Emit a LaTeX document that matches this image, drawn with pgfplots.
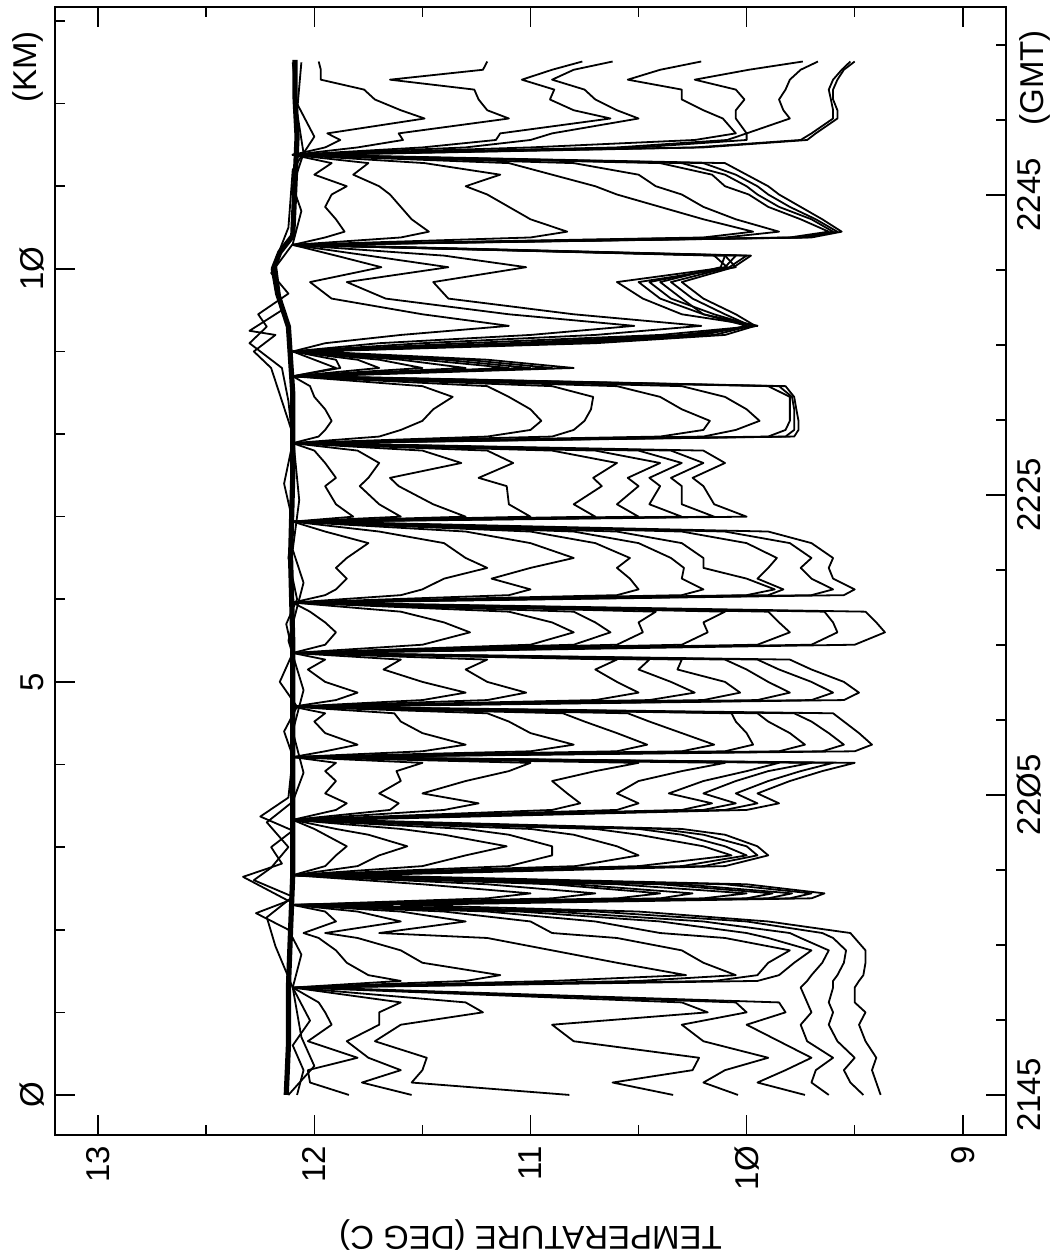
\documentclass[border=0pt]{standalone}
\usepackage{fontspec}
\setmainfont{Liberation Sans}
\usepackage{pgfplots}
\usepackage{pgfplotstable}
\pgfplotsset{compat=1.18}

\pgfplotstableread{
km D1 D2 D3 D4 D5 D6 D7 D8 D9
0.00 11.84 11.55 10.82 10.34 10.04 9.73 9.62 9.46 9.38
0.15 12.02 11.78 11.55 10.62 10.20 9.95 9.70 9.52 9.40
0.30 12.03 11.60 11.50 10.25 10.10 9.82 9.68 9.55 9.42
0.45 11.80 11.75 11.48 10.22 9.90 9.70 9.60 9.50 9.40
0.65 12.03 11.85 11.72 10.80 10.20 9.85 9.72 9.58 9.45
0.85 11.92 11.70 11.60 10.90 10.30 10.00 9.75 9.62 9.48
1.00 11.95 11.70 11.22 10.18 10.00 9.82 9.70 9.60 9.45
1.12 11.98 11.60 11.30 10.30 10.05 9.85 9.72 9.62 9.50
1.30 12.10 12.10 12.10 12.08 12.05 12.00 9.75 9.60 9.50
1.38 11.60 11.30 10.90 10.50 10.15 9.95 9.72 9.60 9.48
1.45 11.75 11.14 10.28 10.05 9.95 9.85 9.70 9.58 9.46
1.60 11.85 11.50 10.60 10.20 9.90 9.78 9.65 9.55 9.45
1.75 11.90 11.60 10.90 10.30 9.80 9.70 9.62 9.54 9.45
1.90 11.98 11.80 11.20 10.60 10.10 9.90 9.75 9.60 9.50
1.96 12.05 11.95 11.70 10.90 10.40 10.00 9.80 9.65 9.52
2.10 11.90 11.60 11.30 11.00 10.70 10.40 10.20 10.00 9.90
2.22 11.95 11.80 11.60 11.40 11.20 11.05 10.90 10.70 10.50
2.30 12.10 12.10 12.10 12.10 12.08 12.05 12.00 11.90 11.60
2.38 11.20 10.90 10.60 10.40 10.20 10.00 9.90 9.80 9.70
2.44 11.00 10.70 10.40 10.25 10.00 9.88 9.79 9.70 9.64
2.55 11.50 11.20 10.90 10.80 10.60 10.40 10.30 10.10 10.00
2.66 12.10 12.10 12.10 12.10 12.10 12.10 12.10 11.95 11.80
2.77 11.95 11.80 11.50 11.10 10.79 10.50 10.30 10.20 10.10
2.90 11.90 11.70 11.30 10.90 10.50 10.07 10.00 9.95 9.90
3.01 11.85 11.57 11.11 10.90 10.60 10.20 10.10 10.00 9.95
3.15 11.95 11.75 11.40 11.10 10.80 10.50 10.30 10.20 10.10
3.22 12.00 11.90 11.60 11.30 11.00 10.70 10.50 10.40 10.30
3.33 12.10 12.10 12.10 12.10 12.10 12.10 12.05 12.00 11.90
3.45 11.90 11.65 11.40 10.90 10.60 10.30 10.20 10.10 10.00
3.53 11.85 11.61 11.24 10.77 10.50 10.16 10.05 9.95 9.85
3.65 11.95 11.70 11.50 10.83 10.60 10.36 10.20 10.05 9.95
3.80 11.90 11.60 11.30 10.90 10.50 10.20 10.05 9.90 9.80
3.92 11.95 11.62 11.10 10.70 10.30 10.00 9.90 9.75 9.65
4.02 11.90 11.50 11.00 10.50 10.10 9.85 9.70 9.60 9.50
4.09 12.10 12.10 12.10 12.10 12.10 12.10 12.05 12.00 11.95
4.16 11.95 11.50 11.00 10.60 10.30 10.10 9.85 9.65 9.50
4.24 11.80 11.30 10.80 10.46 10.15 9.97 9.73 9.55 9.42
4.38 11.95 11.50 11.00 10.60 10.30 10.00 9.80 9.62 9.48
4.52 12.00 11.60 11.10 10.75 10.45 10.05 9.90 9.70 9.55
4.62 11.95 11.63 11.20 10.85 10.55 10.07 9.95 9.78 9.60
4.70 12.10 12.10 12.10 12.10 12.10 12.10 12.10 12.05 12.00
4.78 11.90 11.50 11.20 10.70 10.45 10.20 9.95 9.70 9.55
4.87 11.80 11.30 11.02 10.50 10.24 10.03 9.80 9.60 9.48
5.00 11.95 11.50 11.20 10.60 10.35 10.10 9.90 9.70 9.55
5.15 12.03 11.68 11.30 10.70 10.50 10.32 10.00 9.85 9.70
5.27 11.95 11.60 11.20 10.60 10.45 10.30 10.10 9.95 9.80
5.35 12.10 12.10 12.10 12.10 12.10 12.10 12.10 12.05 12.00
5.45 11.95 11.50 11.00 10.80 10.60 10.30 9.95 9.70 9.50
5.60 11.90 11.28 10.80 10.63 10.48 10.18 9.80 9.58 9.36
5.72 11.95 11.40 10.90 10.70 10.50 10.20 9.85 9.60 9.40
5.85 12.02 11.60 11.10 10.80 10.42 10.10 9.90 9.64 9.45
5.96 12.10 12.10 12.10 12.10 12.10 12.10 12.10 12.05 12.00
6.05 11.95 11.60 11.10 10.60 10.30 10.00 9.90 9.70 9.55
6.12 11.90 11.50 11.00 10.50 10.20 9.87 9.83 9.60 9.50
6.25 11.85 11.40 11.18 10.54 10.30 10.00 9.95 9.70 9.60
6.38 11.90 11.20 11.00 10.60 10.29 10.20 9.90 9.75 9.62
6.50 11.85 11.30 10.80 10.54 10.35 10.20 9.86 9.70 9.60
6.68 11.75 11.40 11.00 10.70 10.50 10.30 10.00 9.80 9.70
6.82 11.95 11.70 11.30 11.00 10.80 10.60 10.30 10.10 9.90
6.94 12.10 12.10 12.10 12.10 12.10 12.10 12.10 12.05 12.00
7.00 11.82 11.60 11.30 11.00 10.70 10.50 10.30 10.15 10.00
7.15 11.90 11.70 11.45 11.10 10.80 10.60 10.45 10.30 10.15
7.37 11.95 11.79 11.61 11.11 10.67 10.50 10.40 10.30 10.20
7.47 11.90 11.75 11.65 11.24 10.71 10.55 10.45 10.35 10.25
7.65 11.95 11.70 11.32 11.08 10.60 10.40 10.30 10.20 10.10
7.80 12.00 11.80 11.50 11.20 10.90 10.70 10.50 10.35 10.20
7.89 12.10 12.10 12.10 12.10 12.10 12.10 12.10 12.05 12.00
7.97 11.98 11.70 11.20 10.90 10.40 10.20 9.90 9.82 9.78
8.05 11.95 11.60 11.00 10.80 10.20 10.05 9.82 9.78 9.76
8.16 11.92 11.50 10.95 10.75 10.17 9.94 9.80 9.78 9.76
8.30 11.95 11.45 11.00 10.72 10.30 10.00 9.80 9.78 9.77
8.45 12.00 11.36 11.10 10.71 10.40 10.10 9.80 9.79 9.78
8.58 12.02 11.50 11.20 10.90 10.60 10.30 9.90 9.85 9.82
8.70 12.10 12.10 12.10 12.10 12.10 12.10 12.10 12.05 12.00
8.80 11.90 11.88 11.70 11.50 11.30 11.10 11.00 10.90 10.80
8.90 12.00 11.90 11.80 11.70 11.60 11.50 11.40 11.30 11.20
9.00 12.10 12.10 12.10 12.10 12.10 12.10 12.10 12.05 12.00
9.10 11.95 11.70 11.50 11.30 11.10 11.00 10.90 10.80 10.70
9.20 11.60 11.00 10.70 10.40 10.30 10.25 10.20 10.15 10.10
9.31 11.10 10.52 10.21 9.95 9.95 9.97 10.00 9.98 9.96
9.45 11.50 11.10 10.80 10.30 10.20 10.15 10.20 10.10 10.05
9.64 11.92 11.67 11.38 10.48 10.40 10.35 10.30 10.25 10.20
9.84 12.02 11.85 11.45 10.60 10.50 10.45 10.40 10.35 10.30
10.02 11.69 11.38 11.02 10.09 10.05 10.10 10.12 10.08 10.06
10.16 11.90 11.75 11.40 10.15 10.10 10.05 10.10 10.00 9.98
10.29 12.10 12.10 12.10 12.10 12.10 12.10 12.10 12.05 12.00
10.38 11.95 11.60 11.00 10.20 10.10 9.80 9.75 9.72 9.70
10.45 11.86 11.47 10.83 9.97 9.85 9.62 9.60 9.58 9.56
10.60 11.90 11.55 11.00 10.20 10.05 9.75 9.70 9.68 9.65
10.75 11.95 11.60 11.10 10.40 10.20 9.90 9.85 9.80 9.75
10.90 11.92 11.65 11.20 10.60 10.30 9.99 9.95 9.90 9.85
11.00 11.85 11.70 11.30 10.70 10.42 10.10 10.00 9.95 9.90
11.14 12.00 11.82 11.14 10.90 10.50 10.16 10.10 10.05 10.00
11.28 11.92 11.75 11.49 11.10 10.80 10.40 10.30 10.20 10.10
11.38 12.10 12.10 12.10 12.10 12.10 12.10 12.10 12.05 12.00
11.47 11.95 11.80 11.50 11.30 11.00 10.60 10.50 10.24 10.20
11.56 11.88 11.59 11.16 11.00 10.24 10.09 10.00 9.75 9.72
11.64 11.94 11.61 11.14 10.90 10.05 10.00 10.00 9.70 9.68
11.82 11.49 11.10 10.63 10.50 10.11 10.05 9.80 9.60 9.58
11.92 11.60 11.20 10.80 10.60 10.20 10.05 9.83 9.60 9.58
12.05 11.72 11.24 10.91 10.70 10.30 10.01 9.85 9.61 9.60
12.17 11.77 11.26 10.89 10.75 10.30 10.05 9.82 9.62 9.60
12.29 11.97 11.65 11.04 10.90 10.55 10.24 9.80 9.60 9.58
12.41 11.97 11.22 10.90 10.80 10.40 9.99 9.75 9.56 9.55
12.51 11.98 11.20 10.76 10.62 10.21 9.74 9.67 9.52 9.50
}\traces

\begin{document}
\begin{tikzpicture}
\pgfplotsset{
  every tick label/.append style={font=\fontsize{16.5}{18}\selectfont},
}
\begin{axis}[
  name=main,
  scale only axis, width=475.5pt, height=564pt,
  xmin=8.8, xmax=13.2, x dir=reverse,
  ymin=-0.485, ymax=13.17,
  xtick={9,10,11,12,13}, xticklabels={9,1Ø,11,12,13},
  minor xtick={9.5,10.5,11.5,12.5},
  ytick={0,5,10}, yticklabels={Ø,5,1Ø},
  minor ytick={1,2,3,4,6,7,8,9,11,12,13},
  ytick pos=left,
  tick align=inside,
  major tick length=10pt, minor tick length=5pt,
  every tick/.style={black, line width=0.8pt},
  axis line style={line width=1pt},
  xticklabel style={rotate=90, anchor=east},
  xticklabel shift=2pt,
  yticklabel style={rotate=90, anchor=south},
  yticklabel shift=2pt,
]
\addplot[black, mark=none, line width=2.6pt, line join=round] coordinates {(12.13,0.0) (12.12,0.6) (12.12,1.3) (12.11,2.0) (12.1,2.66) (12.1,3.5) (12.1,4.5) (12.1,5.5) (12.11,6.5) (12.1,7.5) (12.1,8.5) (12.12,9.3) (12.17,9.7) (12.19,10.0) (12.16,10.2) (12.1,10.4) (12.09,11.0) (12.08,11.6) (12.09,12.1) (12.09,12.53)};
\addplot[black, mark=none, line width=0.9pt, line join=round] coordinates {(12.08,0.0) (12.05,0.3) (12.1,0.6) (12.02,0.9) (12.1,1.3) (12.06,1.7) (12.12,2.0) (12.27,2.2) (12.12,2.35) (12.33,2.64) (12.15,2.8) (12.2,3.0) (12.1,3.2) (12.25,3.37) (12.12,3.6) (12.1,4.1) (12.14,4.4) (12.08,4.7) (12.16,5.0) (12.1,5.35) (12.13,5.7) (12.08,6.0) (12.12,6.5) (12.1,6.94) (12.14,7.4) (12.1,7.9) (12.12,8.4) (12.15,8.8) (12.3,9.1) (12.22,9.3) (12.26,9.45) (12.12,9.7) (12.2,9.95) (12.1,10.3) (12.06,10.7) (12.1,11.0) (12.05,11.4) (12.08,11.9) (12.06,12.5)};
\addplot[black, mark=none, line width=0.9pt, line join=round] coordinates {(12.12,0.0) (12.0,0.35) (12.06,0.7) (12.1,1.3) (12.18,1.8) (12.22,2.15) (12.1,2.4) (12.28,2.6) (12.2,2.75) (12.12,3.0) (12.22,3.3) (12.1,3.55) (12.05,3.9) (12.1,4.4) (12.05,4.9) (12.12,5.5) (12.05,6.2) (12.1,6.6) (12.07,7.2) (12.1,8.0) (12.2,8.8) (12.28,9.0) (12.18,9.2) (12.3,9.25) (12.15,9.5) (12.18,10.1) (12.12,10.5) (12.1,11.2) (12.0,11.6) (12.08,12.0) (12.1,12.5)};
\addplot[black, mark=none, line width=0.9pt, line join=round] table[x=D1,y=km]{\traces};
\addplot[black, mark=none, line width=0.9pt, line join=round] table[x=D2,y=km]{\traces};
\addplot[black, mark=none, line width=0.9pt, line join=round] table[x=D3,y=km]{\traces};
\addplot[black, mark=none, line width=0.9pt, line join=round] table[x=D4,y=km]{\traces};
\addplot[black, mark=none, line width=0.9pt, line join=round] table[x=D5,y=km]{\traces};
\addplot[black, mark=none, line width=0.9pt, line join=round] table[x=D6,y=km]{\traces};
\addplot[black, mark=none, line width=0.9pt, line join=round] table[x=D7,y=km]{\traces};
\addplot[black, mark=none, line width=0.9pt, line join=round] table[x=D8,y=km]{\traces};
\addplot[black, mark=none, line width=0.9pt, line join=round] table[x=D9,y=km]{\traces};
\end{axis}
\begin{axis}[
  scale only axis, width=475.5pt, height=564pt,
  xmin=8.8, xmax=13.2, x dir=reverse,
  ymin=-2.667, ymax=72.53,
  hide x axis,
  axis line style={draw=none},
  ytick={0,20,40,60}, yticklabels={2145,22Ø5,2225,2245},
  minor ytick={5,10,15,25,30,35,45,50,55,65,70},
  ytick pos=right, yticklabel pos=right,
  tick align=inside,
  major tick length=10pt, minor tick length=5pt,
  every tick/.style={black, line width=0.8pt},
  yticklabel style={rotate=90, anchor=north},
  yticklabel shift=2pt,
]
\addplot[draw=none] coordinates {(10,0)};
\end{axis}
\node[rotate=180, font=\fontsize{16.5}{18}\selectfont] at ([yshift=-50pt]main.south) {TEMPERATURE (DEG C)};
\node[rotate=90, font=\fontsize{16.5}{18}\selectfont] at ([xshift=-13.5pt,yshift=-30pt]main.north west) {(KM)};
\node[rotate=90, font=\fontsize{16.5}{18}\selectfont] at ([xshift=14.5pt,yshift=-35.5pt]main.north east) {(GMT)};
\pgfresetboundingbox
\path ([shift={(-27.5pt,-61pt)}]main.south west) rectangle ([shift={(23.5pt,3.5pt)}]main.north east);
\end{tikzpicture}
\end{document}
